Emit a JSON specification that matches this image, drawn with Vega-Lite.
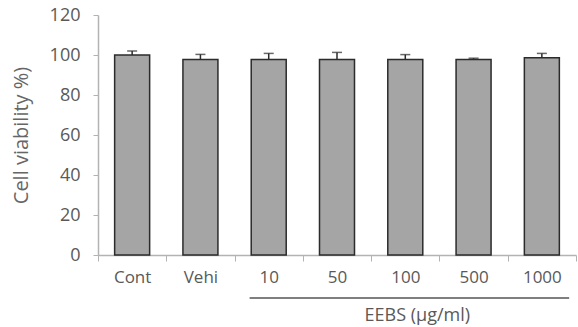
{
  "$schema": "https://vega.github.io/schema/vega-lite/v6.json",
  "autosize": "none",
  "width": 478,
  "height": 240,
  "padding": {"left": 98, "top": 15, "right": 2, "bottom": 72},
  "config": {
    "view": {"stroke": null},
    "font": "Open Sans",
    "axisY": {
      "titleFontSize": 20, "titleFontWeight": "normal", "titleColor": "#666666", "titlePadding": 18,
      "grid": false, "tickCount": 7,
      "labelFontSize": 18, "labelColor": "#595959", "labelPadding": 13, "labelOverlap": false, "labelFlush": false,
      "domainColor": "#b3b3b3", "tickColor": "#b3b3b3", "tickSize": 5, "domainWidth": 1.5
    },
    "axisX": {
      "labelAngle": 0, "labelFontSize": 17, "labelColor": "#595959",
      "domainColor": "#b3b3b3", "tickColor": "#b3b3b3", "tickBand": "extent", "tickSize": 6,
      "labelPadding": 8, "domainWidth": 1.5, "labelOverlap": false
    }
  },
  "datasets": {
    "bars": [
      {"group": "Cont", "mean": 100.0, "upper": 102.0},
      {"group": "Vehi", "mean": 97.8, "upper": 100.3},
      {"group": "10", "mean": 97.8, "upper": 100.8},
      {"group": "50", "mean": 97.8, "upper": 101.3},
      {"group": "100", "mean": 97.8, "upper": 100.2},
      {"group": "500", "mean": 97.8, "upper": 98.4},
      {"group": "1000", "mean": 98.6, "upper": 100.8}
    ],
    "bracket": [
      {"start": "10", "end": "1000", "level": -21.5, "labelAt": "100", "labelLevel": -30.5, "label": "EEBS (μg/ml)"}
    ]
  },
  "layer": [
    {
      "data": {"name": "bars"},
      "mark": {"type": "bar", "fill": "#a5a5a5", "stroke": "#2b2b2b", "strokeWidth": 1.5, "width": 35},
      "encoding": {
        "x": {
          "field": "group", "type": "nominal",
          "scale": {"domain": ["Cont", "Vehi", "10", "50", "100", "500", "1000"], "paddingInner": 0, "paddingOuter": 0},
          "axis": {"title": null}
        },
        "y": {
          "field": "mean", "type": "quantitative",
          "scale": {"domain": [0, 120]},
          "axis": {"title": "Cell viability %)", "values": [0, 20, 40, 60, 80, 100, 120]}
        }
      }
    },
    {
      "data": {"name": "bars"},
      "mark": {"type": "rule", "color": "#2b2b2b", "strokeWidth": 1.5},
      "encoding": {
        "x": {"field": "group", "type": "nominal", "axis": {"title": null}},
        "y": {"field": "mean", "type": "quantitative", "axis": {"title": "Cell viability %)", "values": [0, 20, 40, 60, 80, 100, 120]}},
        "y2": {"field": "upper"}
      }
    },
    {
      "data": {"name": "bars"},
      "mark": {"type": "tick", "color": "#2b2b2b", "thickness": 1.5, "size": 10, "orient": "horizontal"},
      "encoding": {
        "x": {"field": "group", "type": "nominal", "axis": {"title": null}},
        "y": {"field": "upper", "type": "quantitative", "axis": {"title": "Cell viability %)", "values": [0, 20, 40, 60, 80, 100, 120]}}
      }
    },
    {
      "data": {"name": "bracket"},
      "mark": {"type": "rule", "color": "#555555", "strokeWidth": 1.5},
      "encoding": {
        "x": {"field": "start", "type": "nominal", "bandPosition": 0.22, "axis": {"title": null}},
        "x2": {"field": "end", "bandPosition": 0.9},
        "y": {"field": "level", "type": "quantitative", "axis": {"title": "Cell viability %)", "values": [0, 20, 40, 60, 80, 100, 120]}}
      }
    },
    {
      "data": {"name": "bracket"},
      "mark": {"type": "text", "fontSize": 18, "color": "#595959", "baseline": "middle", "align": "center", "dx": 12},
      "encoding": {
        "x": {"field": "labelAt", "type": "nominal", "axis": {"title": null}},
        "y": {"field": "labelLevel", "type": "quantitative", "axis": {"title": "Cell viability %)", "values": [0, 20, 40, 60, 80, 100, 120]}},
        "text": {"field": "label"}
      }
    }
  ]
}
